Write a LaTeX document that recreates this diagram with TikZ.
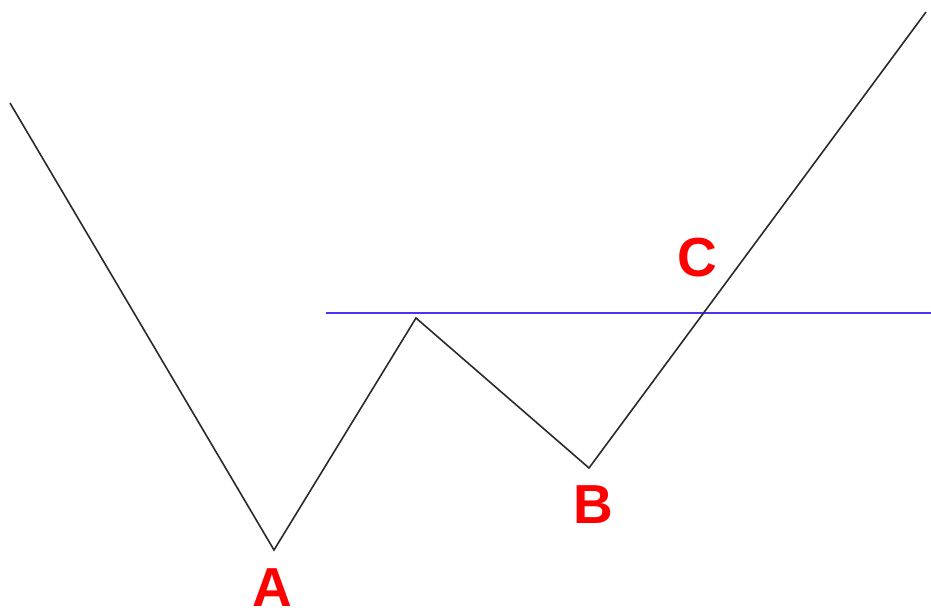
\documentclass[tikz,border=0pt]{standalone}
\usepackage{fontspec}
\setmainfont{Liberation Sans}
\usetikzlibrary{positioning}
\definecolor{cred}{HTML}{FF0000}
\definecolor{cblue}{HTML}{4F33F5}
\definecolor{cline}{HTML}{2A2A2A}
\tikzset{
  every picture/.style={line width=1.6pt},
  wave/.style={draw=cline, line join=miter},
  level/.style={draw=cblue, line width=1.7pt},
  pointlabel/.style={text=cred, font=\fontsize{55}{60}\selectfont\bfseries, inner sep=0pt},
}
\begin{document}
\begin{tikzpicture}[x=1pt, y=-1pt]
  \useasboundingbox (0,0) rectangle (931,613);
  % turning points of the wave
  \coordinate (start) at (10,103);
  \coordinate (lowA) at (274,550);
  \coordinate (peak) at (416,318);
  \coordinate (lowB) at (589,468);
  \coordinate (stop) at (926,12);
  % level through the peak
  \coordinate (levelL) at (326,313);
  \coordinate (levelR) at (931,313);
  \draw[level] (levelL) -- (levelR);
  \draw[wave] (start) -- (lowA) -- (peak) -- (lowB) -- (stop);
  % labels
  \node[pointlabel] (labA) at (272,588) {A};
  \node[pointlabel] (labB) at (593,505) {B};
  \node[pointlabel] (labC) at (697,258) {C};
\end{tikzpicture}
\end{document}
